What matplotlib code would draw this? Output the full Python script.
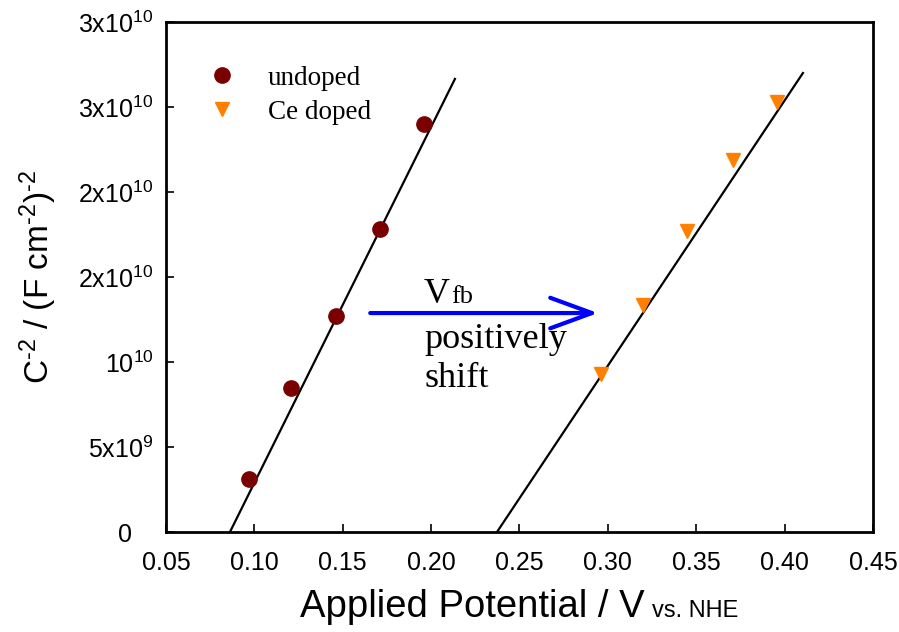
import matplotlib
matplotlib.use("Agg")
import matplotlib.pyplot as plt
import numpy as np

# Mott-Schottky data
undoped_x = [0.097, 0.121, 0.146, 0.171, 0.196]
undoped_y = [3.1e9, 8.5e9, 1.27e10, 1.78e10, 2.40e10]
ce_x = [0.296, 0.320, 0.345, 0.371, 0.396]
ce_y = [9.3e9, 1.335e10, 1.77e10, 2.19e10, 2.53e10]

# fitted lines (end points)
fit_undoped_x = [0.0862, 0.2135]
fit_undoped_y = [0.0, 2.665e10]
fit_ce_x = [0.2373, 0.4104]
fit_ce_y = [0.0, 2.70e10]

xticks = [0.05, 0.10, 0.15, 0.20, 0.25, 0.30, 0.35, 0.40, 0.45]
xticklabels = ["0.05", "0.10", "0.15", "0.20", "0.25", "0.30", "0.35", "0.40", "0.45"]
yticks = [0, 5e9, 1e10, 1.5e10, 2e10, 2.5e10, 3e10]
yticklabels = ["0   ", r"5x10$^{9}$", r"10$^{10}$", r"2x10$^{10}$", r"2x10$^{10}$",
               r"3x10$^{10}$", r"3x10$^{10}$"]

plt.rcParams['font.family'] = ['Liberation Sans', 'DejaVu Sans']
plt.rcParams['mathtext.fontset'] = 'custom'
plt.rcParams['mathtext.rm'] = 'Liberation Sans'
plt.rcParams['mathtext.it'] = 'Liberation Sans'

fig = plt.figure(figsize=(8.99, 6.32), dpi=100)
ax = fig.add_axes([0.1846, 0.1582, 0.7864, 0.807])

ax.plot(fit_undoped_x, fit_undoped_y, color="black", lw=1.6)
ax.plot(fit_ce_x, fit_ce_y, color="black", lw=1.6)
ax.plot(undoped_x, undoped_y, "o", color="#7a0000", ms=11, mec="#7a0000", label="undoped", zorder=3)
ax.plot(ce_x, ce_y, "v", color="#ff8000", ms=10, mec="#ff8000", label="Ce doped", zorder=3)

ax.set_xlim(0.05, 0.45)
ax.set_ylim(0, 3e10)
ax.set_xticks(xticks)
ax.set_xticklabels(xticklabels)
ax.set_yticks(yticks)
ax.set_yticklabels(yticklabels)
ax.tick_params(direction="in", length=6, width=1.2, labelsize=18,
               top=False, right=False)
ax.tick_params(axis="x", pad=14)
ax.tick_params(axis="y", pad=9)
for s in ax.spines.values():
    s.set_linewidth(2)

ax.set_ylabel("C$^{\u20102}$ / (F cm$^{\u20102}$)$^{\u20102}$", fontsize=24, labelpad=14)
fig.text(0.7175, 0.024, "Applied Potential / V", fontsize=27.5, ha="right", va="baseline")
fig.text(0.7255, 0.024, "vs. NHE", fontsize=17, ha="left", va="baseline")

leg = ax.legend(loc="upper left", bbox_to_anchor=(0.025, 0.935), frameon=False,
                prop={'family': 'Liberation Serif', 'size': 19.5}, handletextpad=0.7,
                labelspacing=0.33, borderaxespad=0)

# arrow for flat band shift
ax.annotate("", xy=(0.296, 1.288e10), xytext=(0.164, 1.288e10),
            arrowprops=dict(arrowstyle="->,head_length=3.0,head_width=1.1",
                            mutation_scale=10, color="#0000ff", lw=3))
ax.text(0.196, 1.347e10, "V", fontsize=26, family="Liberation Serif", va="baseline")
ax.text(0.2113, 1.347e10, "fb", fontsize=19, family="Liberation Serif", va="baseline")
ax.text(0.196, 1.082e10, "positively", fontsize=26, family="Liberation Serif", va="baseline")
ax.text(0.196, 8.53e9, "shift", fontsize=26, family="Liberation Serif", va="baseline")

fig.savefig("out.png", dpi=100)
